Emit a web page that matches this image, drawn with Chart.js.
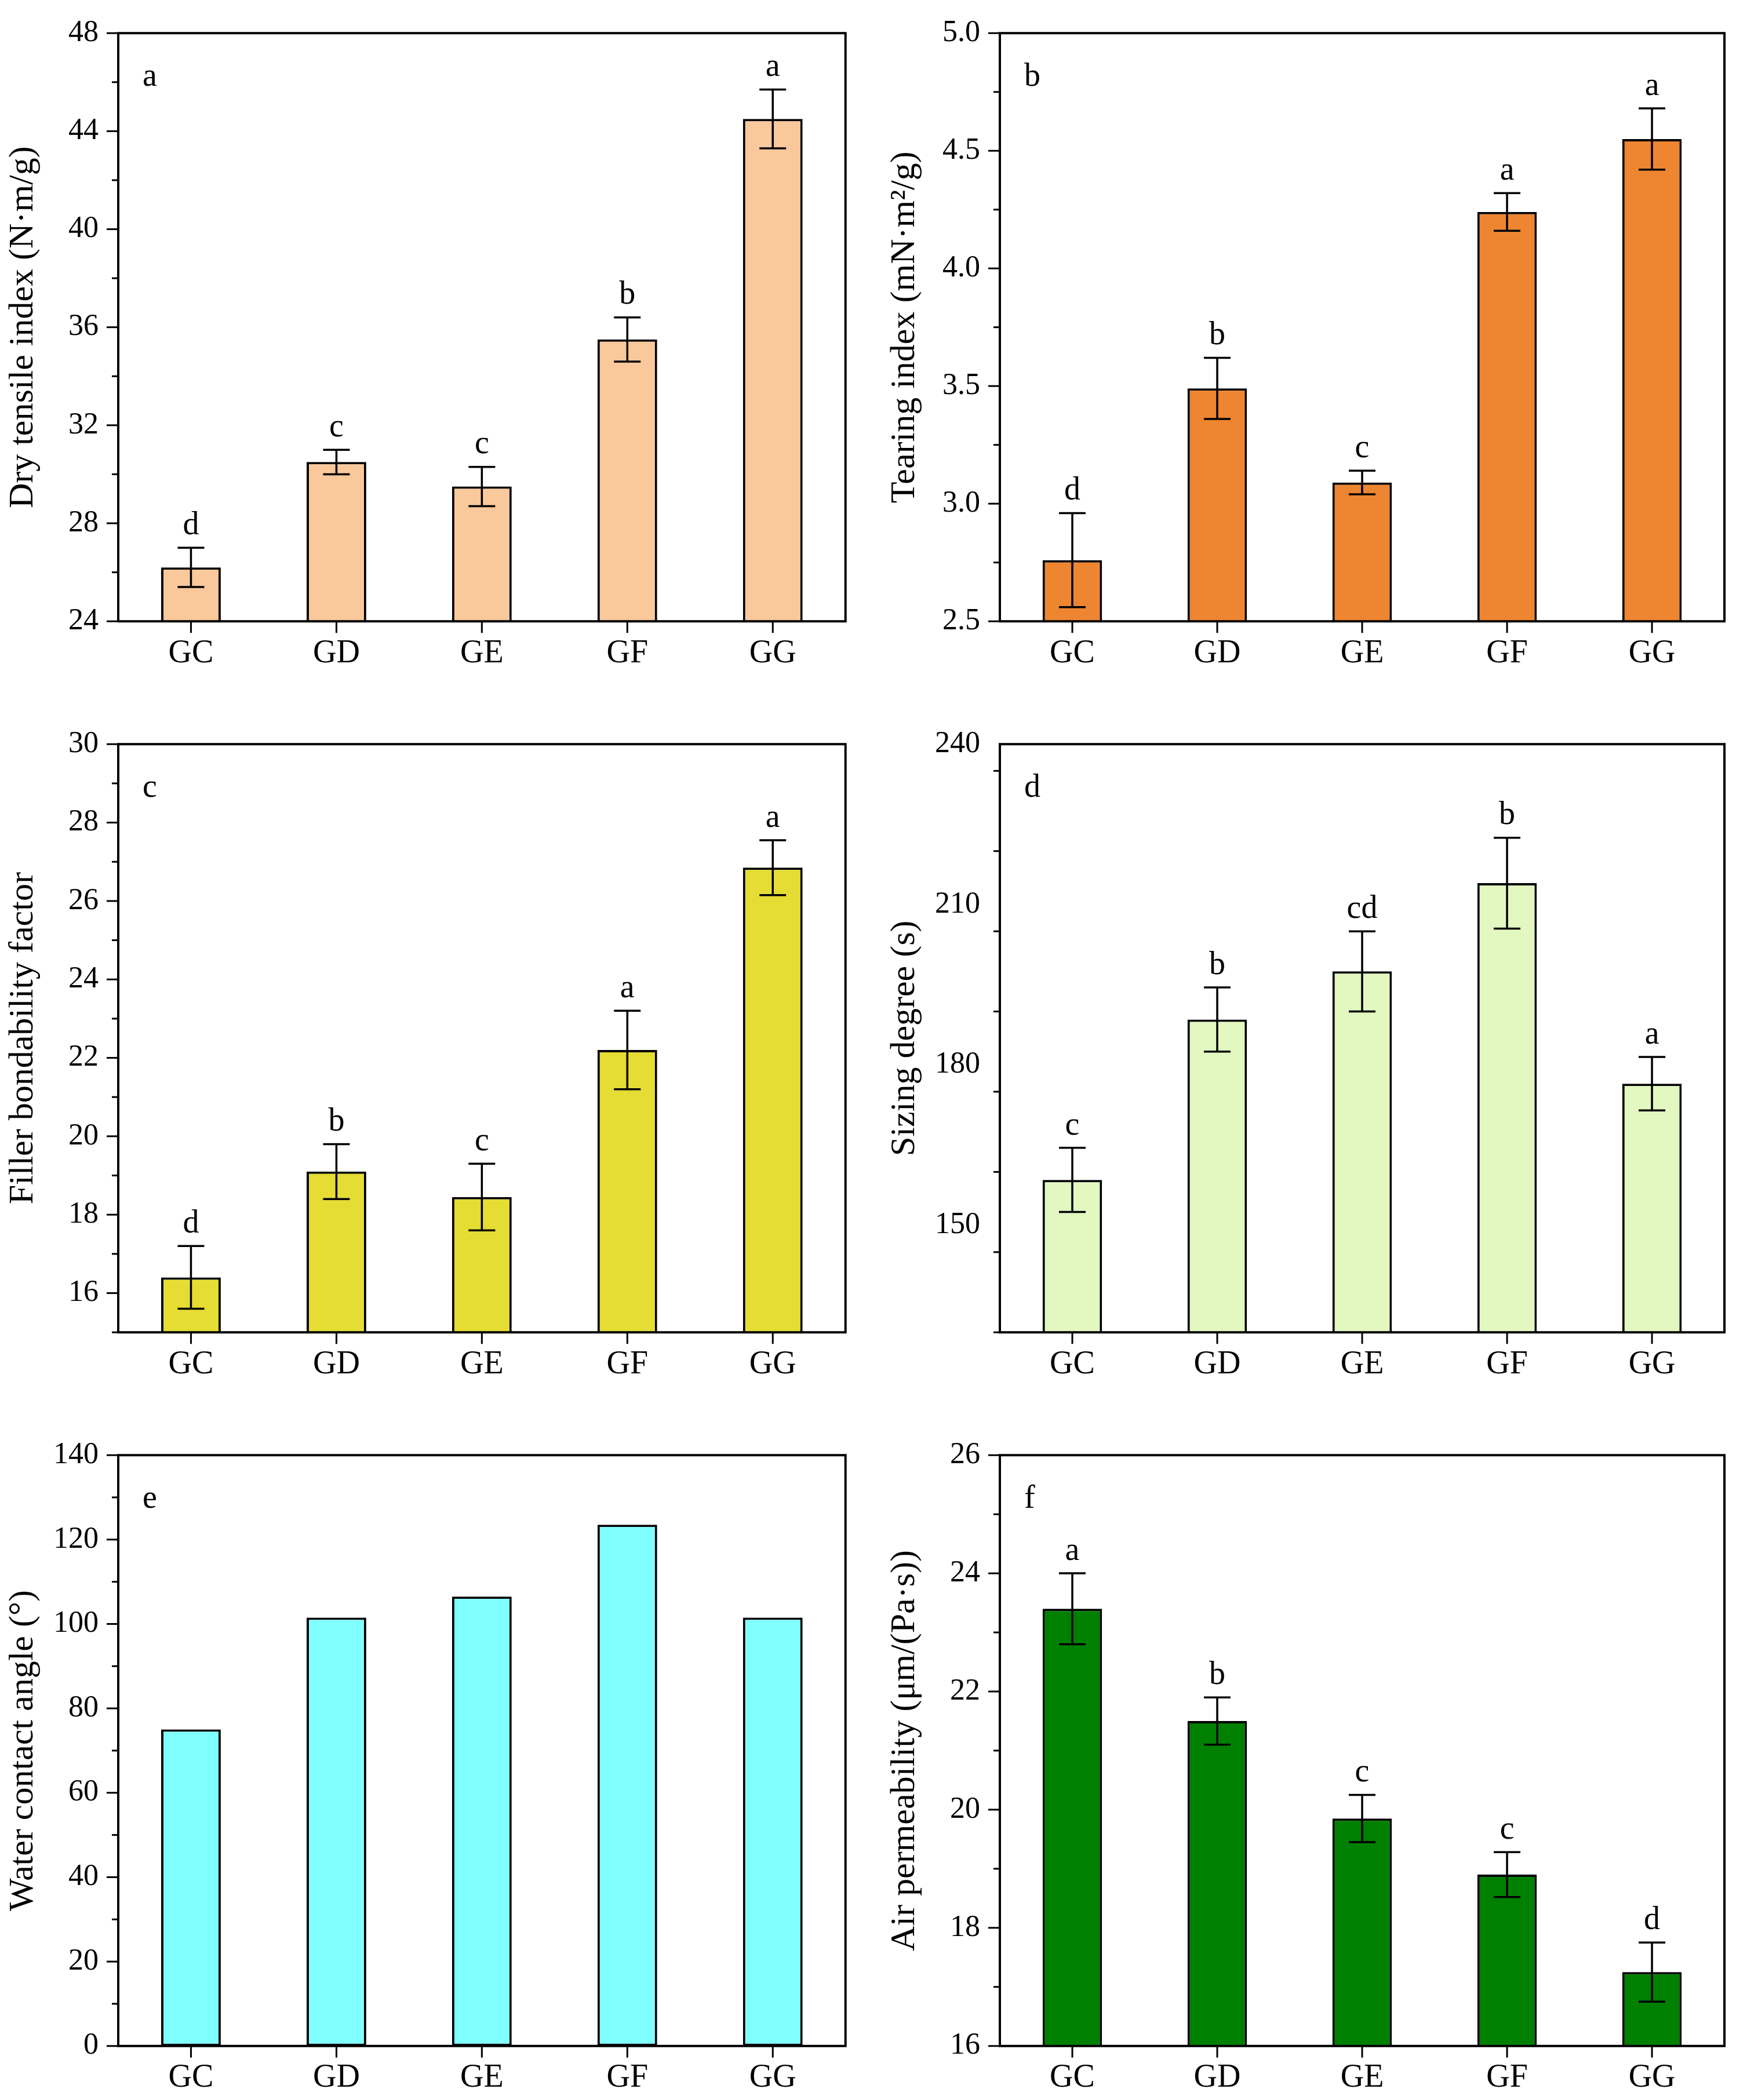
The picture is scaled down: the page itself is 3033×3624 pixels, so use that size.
<!DOCTYPE html>
<html>
<head>
<meta charset="utf-8">
<script src="https://cdn.jsdelivr.net/npm/chart.js@4.4.1/dist/chart.umd.min.js"></script>
<style>
  body { margin: 0; background: #fff; width: 3033px; height: 3624px; position: relative; overflow: hidden; }
  .panel { position: absolute; }
</style>
</head>
<body>
<div class="panel" id="p0"><canvas id="c0"></canvas></div>
<div class="panel" id="p1"><canvas id="c1"></canvas></div>
<div class="panel" id="p2"><canvas id="c2"></canvas></div>
<div class="panel" id="p3"><canvas id="c3"></canvas></div>
<div class="panel" id="p4"><canvas id="c4"></canvas></div>
<div class="panel" id="p5"><canvas id="c5"></canvas></div>
<script>
// Samples
const categories = ['GC', 'GD', 'GE', 'GF', 'GG'];

// a: dry tensile index
const tensileValues = [26.2, 30.5, 29.5, 35.5, 44.5];
const tensileErrors = [0.8, 0.5, 0.8, 0.9, 1.2];
const tensileLetters = ['d', 'c', 'c', 'b', 'a'];

// b: tearing index
const tearValues = [2.76, 3.49, 3.09, 4.24, 4.55];
const tearErrors = [0.2, 0.13, 0.05, 0.08, 0.13];
const tearLetters = ['d', 'b', 'c', 'a', 'a'];

// c: filler bondability factor
const fillerValues = [16.4, 19.1, 18.45, 22.2, 26.85];
const fillerErrors = [0.8, 0.7, 0.85, 1.0, 0.7];
const fillerLetters = ['d', 'b', 'c', 'a', 'a'];

// d: sizing degree
const sizingValues = [158.5, 188.5, 197.5, 214, 176.5];
const sizingErrors = [6, 6, 7.5, 8.5, 5];
const sizingLetters = ['c', 'b', 'cd', 'b', 'a'];

// e: water contact angle
const contactValues = [75, 101.5, 106.5, 123.5, 101.5];

// f: air permeability
const airValues = [23.4, 21.5, 19.85, 18.9, 17.25];
const airErrors = [0.6, 0.4, 0.4, 0.38, 0.5];
const airLetters = ['a', 'b', 'c', 'c', 'd'];

const FONT = '"Liberation Serif", "Times New Roman", serif';
const S = 2.315;
const YW = 200, XH = 120, PT = 42, PR = 30;

// plot-area rectangles in page pixels
const cols = [[88 * S, 630 * S], [745 * S, 1285 * S]];
const rows = [[18 * S, 463 * S], [548 * S, 993 * S], [1078 * S, 1525 * S]];

const panels = [
  { tag: 'a', title: 'Dry tensile index (N·m/g)', values: tensileValues, errors: tensileErrors, letters: tensileLetters,
    color: '#F9C89B', min: 24, max: 48, major: 4, minor: 2, dec: 0 },
  { tag: 'b', title: 'Tearing index (mN·m²/g)', values: tearValues, errors: tearErrors, letters: tearLetters,
    color: '#EE8530', min: 2.5, max: 5.0, major: 0.5, minor: 0.25, dec: 1 },
  { tag: 'c', title: 'Filler bondability factor', values: fillerValues, errors: fillerErrors, letters: fillerLetters,
    color: '#E5DC34', min: 15, max: 30, major: 2, minor: 1, dec: 0, majorStart: 16 },
  { tag: 'd', title: 'Sizing degree (s)', values: sizingValues, errors: sizingErrors, letters: sizingLetters,
    color: '#E3F7C1', min: 130, max: 240, major: 30, minor: 15, dec: 0, majorStart: 150 },
  { tag: 'e', title: 'Water contact angle (°)', values: contactValues, errors: null, letters: null,
    color: '#80FFFF', min: 0, max: 140, major: 20, minor: 10, dec: 0 },
  { tag: 'f', title: 'Air permeability (μm/(Pa·s))', values: airValues, errors: airErrors, letters: airLetters,
    color: '#008000', min: 16, max: 26, major: 2, minor: 1, dec: 0 }
];

// frame, minor ticks, error bars and letters
const decorPlugin = {
  id: 'decor',
  afterDatasetsDraw(chart, args, o) {
    const { ctx, chartArea: a, scales: { x, y } } = chart;
    ctx.save();
    ctx.strokeStyle = '#000';
    ctx.lineWidth = 4;
    ctx.strokeRect(a.left, a.top, a.right - a.left, a.bottom - a.top);
    // minor ticks on y
    ctx.lineWidth = 3;
    for (let v = o.min; v <= o.max + 1e-9; v += o.minor) {
      const isMajor = Math.abs(((v - o.start) / o.major) - Math.round((v - o.start) / o.major)) < 1e-6 && v >= o.start - 1e-9;
      const py = y.getPixelForValue(v);
      const len = isMajor ? 20 : 11;
      ctx.beginPath(); ctx.moveTo(a.left, py); ctx.lineTo(a.left - len, py); ctx.stroke();
    }
    // x ticks at bar centers
    categories.forEach((c, i) => {
      const px = x.getPixelForValue(i);
      ctx.beginPath(); ctx.moveTo(px, a.bottom); ctx.lineTo(px, a.bottom + 20); ctx.stroke();
    });
    // panel tag
    ctx.fillStyle = '#000';
    ctx.font = '56px ' + FONT;
    ctx.textAlign = 'left'; ctx.textBaseline = 'top';
    ctx.fillText(o.tag, a.left + 42, a.top + 48);
    // error bars
    if (o.errors) {
      ctx.lineWidth = 3.5;
      ctx.textAlign = 'center'; ctx.textBaseline = 'bottom';
      o.values.forEach((v, i) => {
        const px = x.getPixelForValue(i);
        const yt = y.getPixelForValue(v + o.errors[i]);
        const yb = y.getPixelForValue(v - o.errors[i]);
        ctx.beginPath();
        ctx.moveTo(px, yt); ctx.lineTo(px, yb);
        ctx.moveTo(px - 23, yt); ctx.lineTo(px + 23, yt);
        ctx.moveTo(px - 23, yb); ctx.lineTo(px + 23, yb);
        ctx.stroke();
        ctx.fillText(o.letters[i], px, yt - 10);
      });
    }
    ctx.restore();
  }
};

panels.forEach((p, k) => {
  const [l, r] = cols[k % 2];
  const [t, b] = rows[Math.floor(k / 2)];
  const div = document.getElementById('p' + k);
  div.style.left = (l - YW) + 'px';
  div.style.top = (t - PT) + 'px';
  div.style.width = (r - l + YW + PR) + 'px';
  div.style.height = (b - t + PT + XH) + 'px';
  const start = p.majorStart !== undefined ? p.majorStart : p.min;

  new Chart(document.getElementById('c' + k), {
    type: 'bar',
    data: {
      labels: categories,
      datasets: [{
        data: p.values,
        backgroundColor: p.color,
        borderColor: '#000',
        borderWidth: 4,
        borderSkipped: false,
        barPercentage: 0.41,
        categoryPercentage: 1
      }]
    },
    plugins: [decorPlugin],
    options: {
      responsive: true,
      maintainAspectRatio: false,
      animation: false,
      devicePixelRatio: 1,
      layout: { padding: { top: PT, right: PR, left: 0, bottom: 0 } },
      plugins: {
        legend: { display: false },
        tooltip: { enabled: false },
        decor: { tag: p.tag, values: p.values, errors: p.errors, letters: p.letters,
                 min: p.min, max: p.max, major: p.major, minor: p.minor, start: start }
      },
      scales: {
        x: {
          grid: { display: false },
          border: { display: false },
          ticks: { color: '#000', font: { family: FONT, size: 56 }, padding: 14 },
          afterFit(s) { s.height = XH; }
        },
        y: {
          min: p.min,
          max: p.max,
          grid: { display: false },
          border: { display: false },
          afterBuildTicks(s) {
            const ticks = [];
            for (let v = start; v <= p.max + 1e-9; v += p.major) ticks.push({ value: +v.toFixed(3) });
            s.ticks = ticks;
          },
          ticks: {
            color: '#000',
            font: { family: FONT, size: 52 },
            padding: 26,
            callback: v => v.toFixed(p.dec)
          },
          title: {
            display: true,
            text: p.title,
            color: '#000',
            font: { family: FONT, size: 60 },
            padding: 0
          },
          afterFit(s) { s.width = YW; }
        }
      }
    }
  });
});
</script>
</body>
</html>
